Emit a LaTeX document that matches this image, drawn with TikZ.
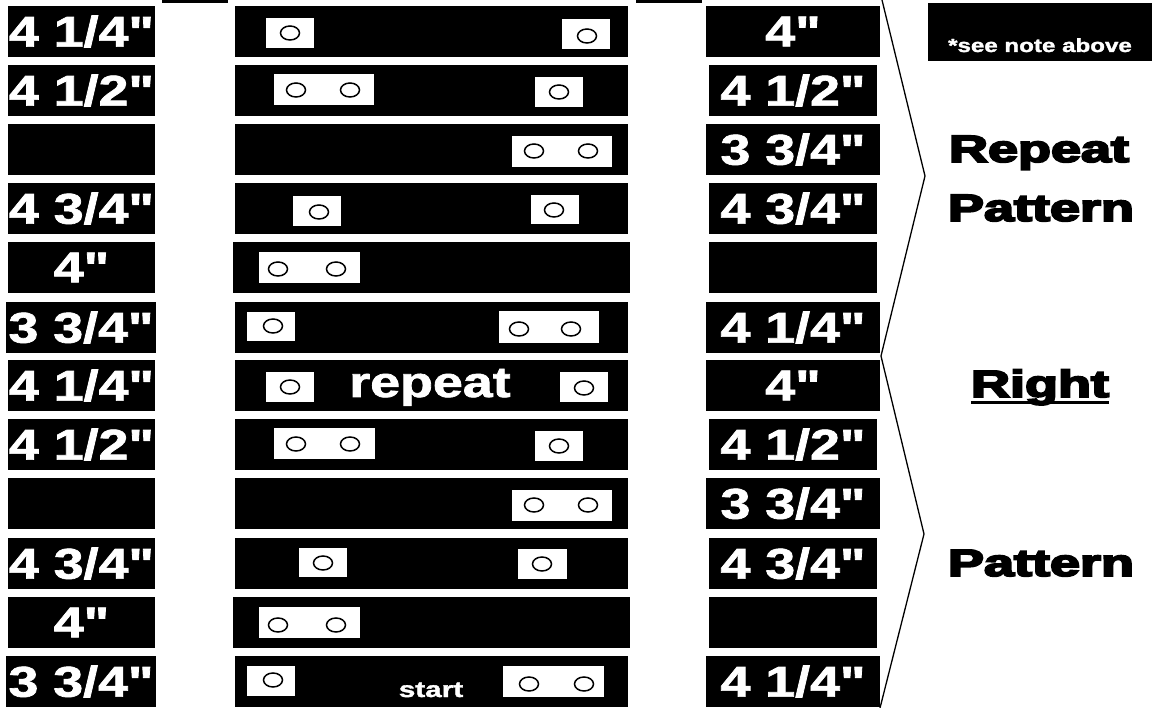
\documentclass[tikz,border=0pt]{standalone}
\usepackage{fontspec}
\usepackage{graphicx}
\setmainfont{Liberation Sans}
\newfontfamily\heavyfont{Liberation Sans Bold}[FakeBold=4.5]
\newfontfamily\labfont{Liberation Sans Bold}[FakeBold=1.5]
\usetikzlibrary{shapes.geometric}
\newcommand\sx[2][1.25]{\scalebox{#1}[1]{#2}}
\begin{document}
\begin{tikzpicture}[x=1pt,y=-1pt,
 bar/.style={fill=black, inner sep=0pt, outer sep=0pt, anchor=north west, minimum height=51pt},
 lbar/.style={bar, minimum width=147pt},
 mbar/.style={bar, minimum width=393pt},
 rbar/.style={bar, minimum width=174pt},
 rbarn/.style={bar, minimum width=168pt},
 plate/.style={fill=white, inner sep=0pt, outer sep=0pt, anchor=north west},
 hole/.style={ellipse, draw=black, line width=1.5pt, fill=white, minimum width=19pt, minimum height=14pt, inner sep=0pt},
 lab/.style={text=white, font=\labfont\fontsize{43}{43}\selectfont},
 big/.style={text=black, font=\heavyfont\fontsize{38}{38}\selectfont, anchor=base, inner sep=0pt},
 bracket/.style={line width=1.3pt}]
\fill[white] (0,0) rectangle (1152,708);
\useasboundingbox (0,0) rectangle (1152,708);
% top fragments
\fill[black] (162,0) rectangle (228,3);
\fill[black] (636,0) rectangle (702,3);
\node[fill=black, inner sep=0pt, anchor=north west, minimum width=224pt, minimum height=58pt] (note) at (928,3) {};
\node[text=white, font=\labfont\fontsize{19}{19}\selectfont, anchor=base, inner sep=0pt] (notetxt) at (1040,52) {\sx[1.27]{*see note above}};
% left column
\node[lbar, lab] (L1) at (8,6) {\sx{4 1/4"}};
\node[lbar, lab] (L2) at (8,65) {\sx{4 1/2"}};
\node[lbar, lab] (L3) at (8,124) {};
\node[lbar, lab] (L4) at (8,183) {\sx{4 3/4"}};
\node[lbar, lab] (L5) at (8,242) {\sx{4"}};
\node[lbar, lab, minimum width=150pt] (L6) at (6,302) {\sx{3 3/4"}};
\node[lbar, lab] (L7) at (8,360) {\sx{4 1/4"}};
\node[lbar, lab] (L8) at (8,419) {\sx{4 1/2"}};
\node[lbar, lab] (L9) at (8,478) {};
\node[lbar, lab] (L10) at (8,538) {\sx{4 3/4"}};
\node[lbar, lab] (L11) at (8,597) {\sx{4"}};
\node[lbar, lab, minimum width=150pt] (L12) at (6,656) {\sx{3 3/4"}};
% middle column
\node[mbar] (M1) at (235,6) {};
\node[mbar] (M2) at (235,65) {};
\node[mbar] (M3) at (235,124) {};
\node[mbar] (M4) at (235,183) {};
\node[mbar, minimum width=397pt] (M5) at (233,242) {};
\node[mbar] (M6) at (235,302) {};
\node[mbar] (M7) at (235,360) {};
\node[mbar] (M8) at (235,419) {};
\node[mbar] (M9) at (235,478) {};
\node[mbar] (M10) at (235,538) {};
\node[mbar, minimum width=397pt] (M11) at (233,597) {};
\node[mbar] (M12) at (235,656) {};
% right column
\node[rbar, lab] (R1) at (706,6) {\sx{4"}};
\node[rbarn, lab] (R2) at (709,65) {\sx{4 1/2"}};
\node[rbar, lab] (R3) at (706,124) {\sx{3 3/4"}};
\node[rbarn, lab] (R4) at (709,183) {\sx{4 3/4"}};
\node[rbarn, lab] (R5) at (709,242) {};
\node[rbar, lab] (R6) at (706,302) {\sx{4 1/4"}};
\node[rbar, lab] (R7) at (706,360) {\sx{4"}};
\node[rbarn, lab] (R8) at (709,419) {\sx{4 1/2"}};
\node[rbar, lab] (R9) at (706,478) {\sx{3 3/4"}};
\node[rbarn, lab] (R10) at (709,538) {\sx{4 3/4"}};
\node[rbarn, lab] (R11) at (709,597) {};
\node[rbar, lab] (R12) at (706,656) {\sx{4 1/4"}};
% plates and holes
\node[plate, minimum width=48pt, minimum height=30pt] (P1a) at (266,18) {};
\node[hole] (H1a) at (290,33) {};
\node[plate, minimum width=48pt, minimum height=30pt] (P1b) at (562,19) {};
\node[hole] (H1b) at (587,36) {};
\node[plate, minimum width=100pt, minimum height=31pt] (P2a) at (274,74) {};
\node[hole] (H2a) at (296,90) {};
\node[hole] (H2b) at (350,90) {};
\node[plate, minimum width=48pt, minimum height=30pt] (P2b) at (535,77) {};
\node[hole] (H2c) at (559,92) {};
\node[plate, minimum width=100pt, minimum height=31pt] (P3a) at (512,136) {};
\node[hole] (H3a) at (534,151) {};
\node[hole] (H3b) at (588,151) {};
\node[plate, minimum width=48pt, minimum height=30pt] (P4a) at (293,196) {};
\node[hole] (H4a) at (319,212) {};
\node[plate, minimum width=48pt, minimum height=29pt] (P4b) at (531,195) {};
\node[hole] (H4b) at (554,210) {};
\node[plate, minimum width=101pt, minimum height=31pt] (P5a) at (259,252) {};
\node[hole] (H5a) at (278,269) {};
\node[hole] (H5b) at (336,269) {};
\node[plate, minimum width=48pt, minimum height=29pt] (P6a) at (247,312) {};
\node[hole] (H6a) at (273,326) {};
\node[plate, minimum width=100pt, minimum height=32pt] (P6b) at (499,311) {};
\node[hole] (H6b) at (519,329) {};
\node[hole] (H6c) at (571,329) {};
\node[plate, minimum width=48pt, minimum height=30pt] (P7a) at (266,372) {};
\node[hole] (H7a) at (290,387) {};
\node[plate, minimum width=48pt, minimum height=30pt] (P7b) at (560,372) {};
\node[hole] (H7b) at (584,388) {};
\node[lab, anchor=base, inner sep=0pt] (repeat) at (430,397) {\sx[1.25]{repeat}};
\node[plate, minimum width=101pt, minimum height=31pt] (P8a) at (274,428) {};
\node[hole] (H8a) at (296,444) {};
\node[hole] (H8b) at (350,444) {};
\node[plate, minimum width=48pt, minimum height=30pt] (P8b) at (535,431) {};
\node[hole] (H8c) at (559,446) {};
\node[plate, minimum width=100pt, minimum height=31pt] (P9a) at (512,490) {};
\node[hole] (H9a) at (534,505) {};
\node[hole] (H9b) at (588,505) {};
\node[plate, minimum width=48pt, minimum height=29pt] (P10a) at (299,548) {};
\node[hole] (H10a) at (323,563) {};
\node[plate, minimum width=49pt, minimum height=30pt] (P10b) at (518,549) {};
\node[hole] (H10b) at (542,564) {};
\node[plate, minimum width=101pt, minimum height=31pt] (P11a) at (259,607) {};
\node[hole] (H11a) at (278,625) {};
\node[hole] (H11b) at (336,625) {};
\node[plate, minimum width=48pt, minimum height=30pt] (P12a) at (247,666) {};
\node[hole] (H12a) at (273,680) {};
\node[plate, minimum width=101pt, minimum height=31pt] (P12b) at (503,666) {};
\node[hole] (H12b) at (529,684) {};
\node[hole] (H12c) at (584,684) {};
\node[text=white, font=\labfont\fontsize{22}{22}\selectfont, anchor=base, inner sep=0pt] (start) at (431,697) {\sx[1.35]{start}};
% brackets
\coordinate (b0) at (882,0);
\coordinate (b1) at (925,176);
\coordinate (b2) at (881,356);
\coordinate (b3) at (924,534);
\coordinate (b4) at (880,708);
\draw[bracket] (b0) -- (b1) -- (b2) -- (b3) -- (b4);
% right texts
\node[big] (repeatR) at (1039,162) {\sx[1.42]{Repeat}};
\node[big] (pattern1) at (1041,221) {\sx[1.42]{Pattern}};
\node[big] (right) at (1040,397) {\sx[1.42]{Right}};
\draw[line width=3pt] ([yshift=-6pt]right.base west) -- ([yshift=-6pt]right.base east);
\node[big] (pattern2) at (1041,576) {\sx[1.42]{Pattern}};
\end{tikzpicture}
\end{document}
